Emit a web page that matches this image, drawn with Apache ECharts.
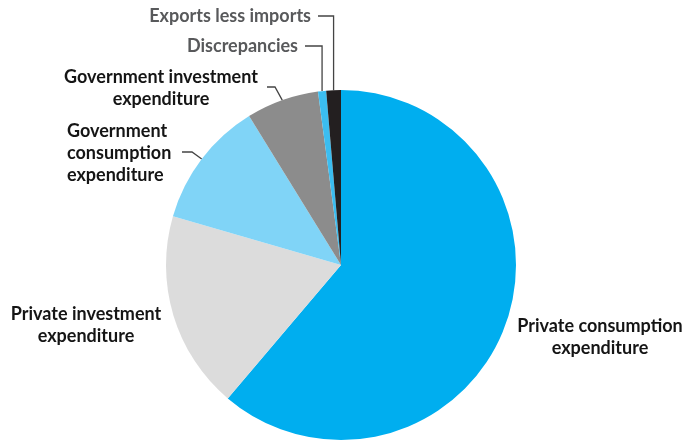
<!DOCTYPE html>
<html>
<head>
<meta charset="utf-8">
<script src="https://cdn.jsdelivr.net/npm/echarts@6/dist/echarts.min.js"></script>
<style>
  html, body { margin: 0; padding: 0; background: #fff; }
  #chart { width: 685px; height: 442px; }
</style>
</head>
<body>
<div id="chart"></div>
<script>
// GDP composition by expenditure component (share, %)
const categories = [
  'Private consumption\nexpenditure',
  'Private investment\nexpenditure',
  'Government\nconsumption\nexpenditure',
  'Government investment\nexpenditure',
  'Discrepancies',
  'Exports less imports'
];
const shares = [61.2, 18.3, 11.7, 6.7, 0.75, 1.35];
const sliceColors = ['#00aeef', '#dcdcdc', '#80d4f7', '#8c8c8c', '#3bbdf0', '#231f20'];
const labelColors = ['#151515', '#151515', '#151515', '#151515', '#58595b', '#58595b'];

// label anchors and leader-line elbows
const labelSpots = [
  { x: 600, y: 337, align: 'center' },
  { x: 86, y: 325, align: 'center' },
  { x: 67, y: 153, align: 'left' },
  { x: 161, y: 88, align: 'center' },
  { x: 298, y: 46, align: 'right' },
  { x: 311, y: 16, align: 'right' }
];
const withLine = [false, false, true, true, true, true];

const chart = echarts.init(document.getElementById('chart'));

chart.setOption({
  animation: false,
  series: [{
    type: 'pie',
    center: [341, 265],
    radius: 175,
    startAngle: 90,
    clockwise: true,
    avoidLabelOverlap: false,
    itemStyle: { borderWidth: 0 },
    label: {
      show: true,
      fontFamily: 'Lato',
      fontWeight: 'bold',
      fontSize: 18,
      lineHeight: 22,
      overflow: 'none'
    },
    labelLine: {
      show: true,
      lineStyle: { color: '#444', width: 1.3 }
    },
    data: categories.map((name, i) => ({
      name: name,
      value: shares[i],
      itemStyle: { color: sliceColors[i] },
      label: { color: labelColors[i] },
      labelLine: { show: withLine[i] }
    })),
    labelLayout: function (params) {
      const i = params.dataIndex;
      const s = labelSpots[i];
      const out = { x: s.x, y: s.y, align: s.align, verticalAlign: 'middle' };
      const pts = params.labelLinePoints;
      if (withLine[i] && pts) {
        const ex = pts[0][0], ey = pts[0][1];
        if (i === 2) {
          out.labelLinePoints = [[ex, ey], [192, 152], [182, 152]];
        } else if (i === 3) {
          out.labelLinePoints = [[ex, ey], [275, 87], [267, 87]];
        } else {
          out.labelLinePoints = [[ex, ey], [ex, s.y], [s.x + 7, s.y]];
        }
      }
      return out;
    }
  }]
});
</script>
</body>
</html>
